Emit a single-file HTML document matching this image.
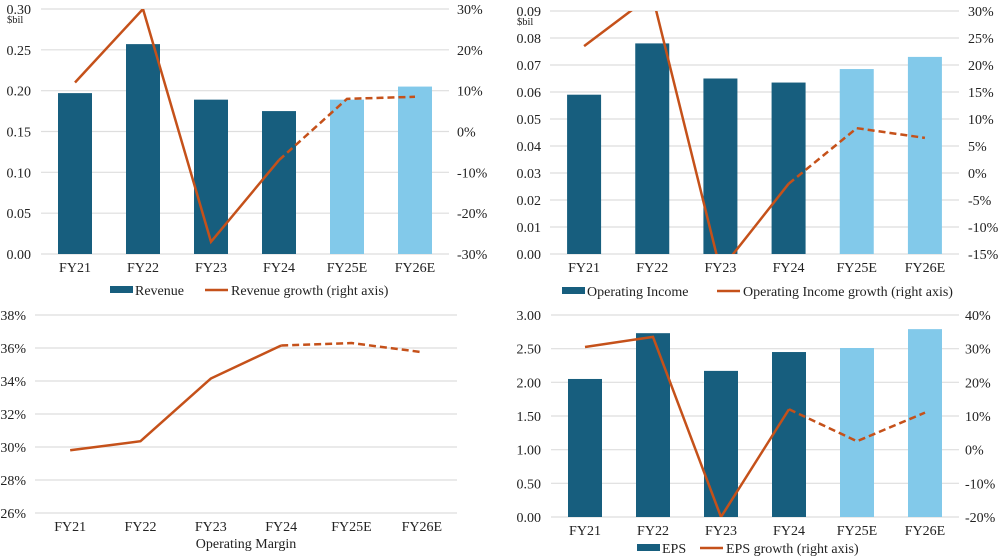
<!DOCTYPE html>
<html><head><meta charset="utf-8"><style>
body{margin:0;background:#fff;}
svg{display:block;font-family:"Liberation Serif",serif;}
text{fill:#222;font-size:14px;}
</style></head><body>
<svg id="c" width="1000" height="558" viewBox="0 0 1000 558"></svg>
<script>
const cats=["FY21","FY22","FY23","FY24","FY25E","FY26E"];
const revenue=[0.197,0.257,0.189,0.175,0.189,0.205];
const revGrowth=[12,30,-27,-7,8,8.5];
const opInc=[0.059,0.078,0.065,0.0635,0.0685,0.073];
const opGrowth=[23.5,33,-18,-2,8.3,6.5];
const opMargin=[29.8,30.35,34.15,36.15,36.3,35.75];
const eps=[2.05,2.73,2.17,2.45,2.51,2.79];
const epsGrowth=[30.5,33.5,-20,12,2.5,11];
const revTicks=["0.00","0.05","0.10","0.15","0.20","0.25","0.30"];
const revGTicks=["-30%","-20%","-10%","0%","10%","20%","30%"];
const opTicks=["0.00","0.01","0.02","0.03","0.04","0.05","0.06","0.07","0.08","0.09"];
const opGTicks=["-15%","-10%","-5%","0%","5%","10%","15%","20%","25%","30%"];
const marTicks=["26%","28%","30%","32%","34%","36%","38%"];
const epsTicks=["0.00","0.50","1.00","1.50","2.00","2.50","3.00"];
const epsGTicks=["-20%","-10%","0%","10%","20%","30%","40%"];

const svg=document.getElementById('c');
const NS="http://www.w3.org/2000/svg";
function mk(tag,attrs,parent){const e=document.createElementNS(NS,tag);for(const k in attrs)e.setAttribute(k,attrs[k]);(parent||svg).appendChild(e);return e;}
let clipId=0;
function chart(o){
  const g=mk('g',{});
  
  
  const n=cats.length, step=(o.x1-o.x0)/n;
  const xc=i=>o.x0+step*(i+0.5);
  const yL=v=>o.yb-(v-o.lmin)/(o.lmax-o.lmin)*(o.yb-o.yt);
  const yR=v=>o.yb-(v-o.rmin)/(o.rmax-o.rmin)*(o.yb-o.yt);
  o.lticks.forEach((t,i)=>{
    const y=o.yb-i*(o.yb-o.yt)/(o.lticks.length-1);
    const gl=mk('line',{x1:o.x0,x2:o.x1,y1:y,y2:y,stroke:'#dedede','stroke-width':1.2},g);
    
    
    const tx=mk('text',{x:o.lx,y:y+5,'text-anchor':'end'},g);tx.textContent=t;
    
    
  });
  if(o.rticks){o.rticks.forEach((t,i)=>{
    const y=o.yb-i*(o.yb-o.yt)/(o.rticks.length-1);
    const tx=mk('text',{x:o.rx,y:y+5},g);tx.textContent=t;
    
    
  });}
  if(o.unit){const u=mk('text',{x:o.lx-24,y:o.yt+14,'style':'font-size:10.5px'},g);u.textContent=o.unit;
    
    }
  if(o.bars){o.bars.forEach((v,i)=>{
    const y=yL(v);
    const r=mk('rect',{x:xc(i)-17,y:y,width:34,height:o.yb-y,fill:i<4?'#175e7e':'#82c9ea'},g);
    
    
  });}
  cats.forEach((c,i)=>{const t=mk('text',{x:xc(i),y:o.yb+18,'text-anchor':'middle'},g);t.textContent=c;
    
    });
  const cid='clip'+(clipId++);
  const cp=mk('clipPath',{id:cid},g);mk('rect',{x:o.x0-5,y:o.yt,width:o.x1-o.x0+10,height:o.yb-o.yt},cp);
  const yf=o.bars?yR:yL;
  const solid=o.line.slice(0,4).map((v,i)=>xc(i)+','+yf(v)).join(' ');
  const dash=o.line.slice(3).map((v,i)=>xc(i+3)+','+yf(v)).join(' ');
  const l1=mk('polyline',{points:solid,fill:'none',stroke:'#c5511a','stroke-width':2.5,'clip-path':'url(#'+cid+')'},g);
  
  
  const l2=mk('polyline',{points:dash,fill:'none',stroke:'#c5511a','stroke-width':2.5,'stroke-dasharray':'7,4','clip-path':'url(#'+cid+')'},g);
  
  
  if(o.leg){
    const ly=o.legY;
    const m1=mk('rect',{x:o.leg[0],y:ly-4,width:23,height:7,fill:'#175e7e'},g);
    
    
    const t1=mk('text',{x:o.leg[0]+25,y:ly+5},g);t1.textContent=o.leg[1];
    
    
    const m2=mk('line',{x1:o.leg[2],x2:o.leg[2]+23,y1:ly,y2:ly,stroke:'#c5511a','stroke-width':2.5},g);
    
    
    const t2=mk('text',{x:o.leg[2]+26,y:ly+5},g);t2.textContent=o.leg[3];
    
    
  }
  if(o.title){const t=mk('text',{x:o.title[1],y:o.legY+5,'text-anchor':'middle'},g);t.textContent=o.title[0];
    
    }
}
chart({name:'revenue-chart',x0:41,x1:449,yt:9,yb:254,lticks:revTicks,lmin:0,lmax:0.30,rticks:revGTicks,rmin:-30,rmax:30,lx:31,rx:457,unit:'$bil',bars:revenue,line:revGrowth,legY:290,leg:[110,'Revenue',205,'Revenue growth (right axis)']});
chart({name:'operating-income-chart',x0:550,x1:959,yt:11,yb:254,lticks:opTicks,lmin:0,lmax:0.09,rticks:opGTicks,rmin:-15,rmax:30,lx:541,rx:968,unit:'$bil',bars:opInc,line:opGrowth,legY:291,leg:[562,'Operating Income',717,'Operating Income growth (right axis)']});
chart({name:'operating-margin-chart',x0:35,x1:457,yt:315,yb:513,lticks:marTicks,lmin:26,lmax:38,lx:26,line:opMargin,legY:543,title:['Operating Margin',246]});
chart({name:'eps-chart',x0:551,x1:959,yt:315,yb:517,lticks:epsTicks,lmin:0,lmax:3,rticks:epsGTicks,rmin:-20,rmax:40,lx:541,rx:965,bars:eps,line:epsGrowth,legY:548,leg:[637,'EPS',700,'EPS growth (right axis)']});
</script>
</body></html>
